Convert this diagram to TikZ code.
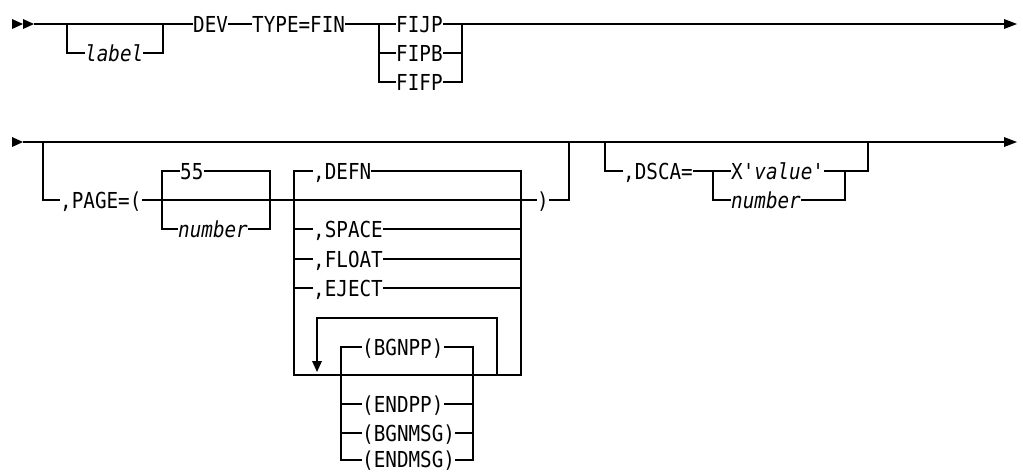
\documentclass[tikz,border=0pt]{standalone}
\usepackage{fontspec}
\newfontfamily\dmono[FakeStretch=0.876]{DejaVu Sans Mono}
\begin{document}
\begin{tikzpicture}[x=1pt,y=-1pt,
  rail/.style={line width=1.25pt, line cap=butt},
  kw/.style={font=\dmono\fontsize{22}{24}\selectfont, inner sep=0pt, anchor=base west},
  var/.style={font=\dmono\itshape\fontsize{22}{24}\selectfont, inner sep=0pt, anchor=base west},
  tipfill/.style={fill=black}]
\useasboundingbox (0,0) rectangle (1023,472);

% ---------- row 1 ----------
\node[var] (label) at (85,61) {label};
\node[kw] (dev) at (193,32) {DEV};
\node[kw] (type) at (252,32) {TYPE=FIN};
\node[kw] (fijp) at (396,32) {FIJP};
\node[kw] (fipb) at (396,61) {FIPB};
\node[kw] (fifp) at (396,90) {FIFP};

\fill[tipfill] (12,19) -- (23,24) -- (12,29) -- cycle;
\fill[tipfill] (23,19) -- (34,24) -- (23,29) -- cycle;
\coordinate (s1) at (34,24);
\coordinate (lb1) at (67,24);
\coordinate (lb2) at (67,53);
\coordinate (lb3) at (163,53);
\coordinate (lb4) at (163,24);
\coordinate (c1) at (379,24);
\coordinate (c5) at (379,53);
\coordinate (c2) at (379,82);
\coordinate (c3) at (462,24);
\coordinate (c6) at (462,53);
\coordinate (c4) at (462,82);
\coordinate (e1) at (1004,24);

\draw[rail] (s1) -- (dev.west |- s1);
\draw[rail] (lb1) -- (lb2) -- (label.west |- lb2);
\draw[rail] (label.east |- lb3) -- (lb3) -- (lb4);
\draw[rail] (dev.east |- s1) -- (type.west |- s1);
\draw[rail] (type.east |- s1) -- (fijp.west |- s1);
\draw[rail] (c1) -- (c2) -- (fifp.west |- c2);
\draw[rail] (c5) -- (fipb.west |- c5);
\draw[rail] (fijp.east |- c1) -- (e1);
\draw[rail] (fipb.east |- c5) -- (c6);
\draw[rail] (fifp.east |- c2) -- (c4) -- (c3);
\fill[tipfill] (1004,19) -- (1017,24) -- (1004,29) -- cycle;

% ---------- row 2 ----------
\node[kw] (page) at (60,208) {,PAGE=(};
\node[kw] (n55) at (180,179) {55};
\node[var] (numA) at (178,237) {number};
\node[kw] (defn) at (313,179) {,DEFN};
\node[kw] (space) at (313,237) {,SPACE};
\node[kw] (float) at (313,267) {,FLOAT};
\node[kw] (eject) at (313,296) {,EJECT};
\node[kw] (bgnpp) at (362,355) {(BGNPP)};
\node[kw] (endpp) at (362,412) {(ENDPP)};
\node[kw] (bgnmsg) at (362,441) {(BGNMSG)};
\node[kw] (endmsg) at (362,467.5) {(ENDMSG)};
\node[kw] (rpar) at (537,208) {)};
\node[kw] (dsca) at (623,179) {,DSCA=};
\node[kw] (xval) at (731,179) {X'{\itshape value}'};
\node[var] (numB) at (731,208) {number};

\fill[tipfill] (12,137) -- (23,142) -- (12,147) -- cycle;
\coordinate (s2) at (23,142);
\coordinate (e2) at (1004,142);
\draw[rail] (s2) -- (e2);
\fill[tipfill] (1004,137) -- (1017,142) -- (1004,147) -- cycle;

% PAGE optional
\coordinate (p1) at (43,142);
\coordinate (p2) at (43,200);
\draw[rail] (p1) -- (p2) -- (page.west |- p2);
\draw[rail] (page.east |- p2) -- (rpar.west |- p2);

% 55 / number
\coordinate (q1) at (162,171);
\coordinate (q2) at (162,229);
\coordinate (q3) at (270,171);
\coordinate (q4) at (270,229);
\draw[rail] (n55.west |- q1) -- (q1) -- (q2) -- (numA.west |- q2);
\draw[rail] (n55.east |- q1) -- (q3) -- (q4) -- (numA.east |- q4);

% DEFN choice
\coordinate (d1) at (294,171);
\coordinate (d2) at (294,375);
\coordinate (d3) at (521,171);
\coordinate (d4) at (521,375);
\draw[rail] (defn.west |- d1) -- (d1) -- (d2) -- (d4) -- (d3) -- (defn.east |- d3);
\foreach \n/\y in {space/229, float/259, eject/288}{
  \draw[rail] (294,\y) -- (\n.west |- 294,\y);
  \draw[rail] (\n.east |- 521,\y) -- (521,\y);
}

% repeat loop
\coordinate (r0) at (317,362);
\coordinate (r1) at (317,318);
\coordinate (r2) at (497,318);
\coordinate (r3) at (497,375);
\draw[rail] (r0) -- (r1) -- (r2) -- (r3);
\fill[tipfill] (312,361) -- (322,361) -- (317,372) -- cycle;

% BGNPP choice
\coordinate (g1) at (341,347);
\coordinate (g2) at (341,460);
\coordinate (g3) at (473,347);
\coordinate (g4) at (473,460);
\draw[rail] (bgnpp.west |- g1) -- (g1) -- (g2) -- (endmsg.west |- g2);
\draw[rail] (bgnpp.east |- g3) -- (g3) -- (g4) -- (endmsg.east |- g4);
\foreach \n/\y in {endpp/404, bgnmsg/433}{
  \draw[rail] (341,\y) -- (\n.west |- 341,\y);
  \draw[rail] (\n.east |- 473,\y) -- (473,\y);
}

% closing paren
\coordinate (rp1) at (569,200);
\coordinate (rp2) at (569,142);
\draw[rail] (rpar.east |- rp1) -- (rp1) -- (rp2);

% DSCA optional
\coordinate (k1) at (605,142);
\coordinate (k2) at (605,171);
\draw[rail] (k1) -- (k2) -- (dsca.west |- k2);
\draw[rail] (dsca.east |- k2) -- (xval.west |- k2);
\coordinate (m1) at (713,171);
\coordinate (m2) at (713,200);
\coordinate (m3) at (845,171);
\coordinate (m4) at (845,200);
\coordinate (m5) at (868,171);
\coordinate (m6) at (868,142);
\draw[rail] (m1) -- (m2) -- (numB.west |- m2);
\draw[rail] (xval.east |- m3) -- (m5) -- (m6);
\draw[rail] (numB.east |- m4) -- (m4) -- (m3);
\end{tikzpicture}
\end{document}
